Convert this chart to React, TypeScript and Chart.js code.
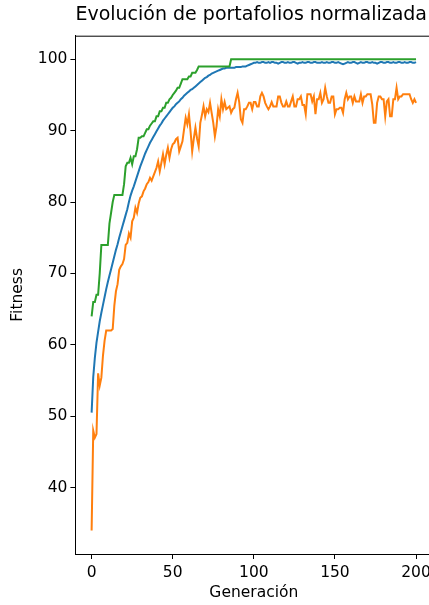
import { useEffect, useRef } from "react";
import { Chart, registerables } from "chart.js";

Chart.register(...registerables);

const FONT = "DejaVu Sans";

const TITLE = "Evolución de portafolios normalizada";
const X_LABEL = "Generación";
const Y_LABEL = "Fitness";

const generations: number[] = Array.from({ length: 201 }, (_, i) => i);

// Best (max) fitness per generation
const maxFitness: number[] = [
  64, 66, 66, 67, 67, 70, 74, 74, 74, 74,
  74, 77, 78.5, 80, 81, 81, 81, 81, 81, 81,
  82.5, 85, 85.5, 85.5, 86.2, 85.3, 86.4, 86.4, 87.4, 89,
  89, 89.2, 89.2, 89.7, 90.2, 90.2, 90.7, 91, 91.3, 91.3,
  92, 92, 92.7, 92.7, 93.2, 93.2, 93.9, 93.9, 94.4, 94.6,
  95, 95.3, 95.6, 96, 96, 96.6, 97.2, 97.2, 97.2, 97.2,
  97.6, 97.6, 98.1, 98.1, 98.1, 98.5, 99, 99, 99, 99,
  99, 99, 99, 99, 99, 99, 99, 99, 99, 99,
  99, 99, 99, 99, 99, 99, 100, 100, 100, 100,
  100, 100, 100, 100, 100, 100, 100, 100, 100, 100,
  100, 100, 100, 100, 100, 100, 100, 100, 100, 100,
  100, 100, 100, 100, 100, 100, 100, 100, 100, 100,
  100, 100, 100, 100, 100, 100, 100, 100, 100, 100,
  100, 100, 100, 100, 100, 100, 100, 100, 100, 100,
  100, 100, 100, 100, 100, 100, 100, 100, 100, 100,
  100, 100, 100, 100, 100, 100, 100, 100, 100, 100,
  100, 100, 100, 100, 100, 100, 100, 100, 100, 100,
  100, 100, 100, 100, 100, 100, 100, 100, 100, 100,
  100, 100, 100, 100, 100, 100, 100, 100, 100, 100,
  100, 100, 100, 100, 100, 100, 100, 100, 100, 100,
  100,
];

// Mean fitness per generation
const meanFitness: number[] = [
  50.5, 55.5, 58.2, 60.3, 61.8, 63.3, 64.5, 65.6, 66.7, 67.8,
  68.8, 69.7, 70.6, 71.5, 72.4, 73.3, 74.1, 75.0, 75.8, 76.6,
  77.4, 78.2, 79.0, 80.0, 80.9, 81.6, 82.2, 82.9, 83.6, 84.3,
  85.0, 85.6, 86.2, 86.8, 87.3, 87.8, 88.3, 88.7, 89.1, 89.5,
  89.9, 90.3, 90.7, 91.0, 91.4, 91.7, 92.0, 92.3, 92.6, 92.9,
  93.2, 93.4, 93.7, 93.9, 94.1, 94.4, 94.6, 94.9, 95.1, 95.3,
  95.5, 95.7, 95.8, 96.0, 96.2, 96.4, 96.6, 96.8, 97.0, 97.2,
  97.4, 97.5, 97.7, 97.8, 98.0, 98.1, 98.2, 98.3, 98.4, 98.5,
  98.6, 98.7, 98.7, 98.8, 98.8, 98.8, 98.8, 98.8, 98.8, 98.9,
  98.9, 98.9, 98.9, 99.0, 99.0, 99.0, 99.1, 99.2, 99.3, 99.4,
  99.5, 99.5, 99.6, 99.5, 99.5, 99.6, 99.6, 99.5, 99.5, 99.6,
  99.5, 99.6, 99.6, 99.5, 99.5, 99.4, 99.5, 99.6, 99.6, 99.5,
  99.5, 99.6, 99.5, 99.5, 99.6, 99.6, 99.5, 99.4, 99.5, 99.5,
  99.6, 99.5, 99.5, 99.6, 99.6, 99.5, 99.5, 99.6, 99.6, 99.5,
  99.5, 99.5, 99.6, 99.5, 99.5, 99.6, 99.5, 99.5, 99.6, 99.6,
  99.5, 99.5, 99.6, 99.5, 99.4, 99.3, 99.4, 99.5, 99.6, 99.5,
  99.5, 99.6, 99.6, 99.5, 99.4, 99.5, 99.6, 99.5, 99.5, 99.6,
  99.6, 99.5, 99.5, 99.6, 99.5, 99.5, 99.4, 99.5, 99.6, 99.6,
  99.5, 99.5, 99.6, 99.6, 99.5, 99.5, 99.6, 99.5, 99.5, 99.6,
  99.6, 99.5, 99.5, 99.6, 99.5, 99.5, 99.6, 99.6, 99.5, 99.5,
  99.6,
];

// Noisy portfolio fitness per generation
const portfolioFitness: number[] = [
  34, 48, 47, 47.5, 56, 54.3, 55.4, 58.5, 60.6, 62,
  62, 62, 62, 62.2, 65.5, 67.5, 68.5, 70.5, 71, 71.3,
  72, 74, 74.3, 75.6, 75, 77.3, 77.8, 79.2, 78.5, 79.8,
  80.6, 80.8, 81.5, 81.9, 82.5, 82.8, 83.4, 83, 83.6, 84.2,
  84.8, 85.7, 84.3, 85.5, 86.7, 85.3, 86.6, 87.6, 86.2, 87.4,
  88.1, 88.3, 88.8, 89, 87.1, 87.8, 88.5, 90.2, 91.8, 90.9,
  92.3, 89.9, 87.1, 88.9, 90.4, 88.9, 87.8, 91.1, 92.2, 93.4,
  92, 93, 92.6, 93.9, 92.5, 91.1, 89.2, 90.6, 93, 92,
  94.4, 93, 94, 93, 93.2, 93.4, 92.5, 93, 93.2, 94.4,
  95.3, 94, 91.6, 91.1, 93, 93, 93.4, 93.9, 93.9, 93,
  94, 94, 93.4, 93.4, 94.8, 95.3, 94.8, 93.9, 93.4, 93,
  93.4, 94, 93.4, 93.4, 93.4, 94.8, 94.8, 93.9, 93.4, 93.4,
  94.1, 93.4, 93.4, 94.1, 94.8, 93.4, 93.4, 94.4, 94.4, 94.8,
  93.6, 93.6, 92.3, 95.1, 95.1, 95.1, 94.1, 94.8, 92.3, 94.4,
  94.4, 95.3, 93.9, 94.4, 96, 94.8, 93.9, 93.9, 94.8, 94.8,
  92.3, 93, 93, 93.2, 93.2, 92.5, 94.4, 95.3, 94.4, 94.8,
  94.8, 93.9, 94.8, 94.1, 94.1, 94.1, 95.1, 93.9, 94.8, 94.8,
  95.1, 95.1, 95.1, 93.7, 91.1, 91.1, 93.9, 94.8, 94.8, 94.4,
  94.4, 92, 94.1, 94.4, 92, 92, 94.4, 94.4, 96, 94.4,
  94.8, 94.8, 95.1, 95.1, 95.1, 95.1, 95.1, 94.4, 93.9, 94.4,
  93.9,
];

const X_MIN = -10;
const X_MAX = 210;
const X_STEP = 50;
const Y_MIN = 30.7;
const Y_MAX = 103.3;
const Y_STEP = 10;

const toPoints = (vals: number[]) => vals.map((v, i) => ({ x: generations[i], y: v }));

const spinePlugin = {
  id: "spines",
  afterDraw(chart: any) {
    const { ctx, chartArea } = chart;
    const { left, right, top, bottom } = chartArea;
    ctx.save();
    ctx.strokeStyle = "#000";
    ctx.lineWidth = 1;
    ctx.beginPath();
    ctx.moveTo(left, top + 0.5);
    ctx.lineTo(right, top + 0.5);
    ctx.moveTo(right - 0.5, top);
    ctx.lineTo(right - 0.5, bottom);
    ctx.stroke();
    ctx.restore();
  },
};

export default function App() {
  const ref = useRef<HTMLCanvasElement>(null);

  useEffect(() => {
    if (!ref.current) return;
    const axisFont = { family: FONT, size: 15.5 };
    const chart = new Chart(ref.current, {
      type: "line",
      data: {
        datasets: [
          {
            label: "max",
            data: toPoints(maxFitness),
            borderColor: "#2ca02c",
            backgroundColor: "#2ca02c",
            borderWidth: 2,
            pointRadius: 0,
            tension: 0,
            fill: false,
          },
          {
            label: "portafolio",
            data: toPoints(portfolioFitness),
            borderColor: "#ff7f0e",
            backgroundColor: "#ff7f0e",
            borderWidth: 2,
            pointRadius: 0,
            tension: 0,
            fill: false,
          },
          {
            label: "media",
            data: toPoints(meanFitness),
            borderColor: "#1f77b4",
            backgroundColor: "#1f77b4",
            borderWidth: 2,
            pointRadius: 0,
            tension: 0,
            fill: false,
          },
        ],
      },
      options: {
        animation: false,
        responsive: false,
        devicePixelRatio: 1,
        layout: { padding: { left: 0, right: 1.4, top: 0, bottom: 0 } },
        plugins: {
          legend: { display: false },
          tooltip: { enabled: false },
          title: {
            display: true,
            text: TITLE,
            align: "start",
            fullSize: false,
            color: "#000",
            font: { family: FONT, size: 19, weight: "normal" },
            padding: { top: 4, bottom: 8.9 },
          },
        },
        scales: {
          x: {
            type: "linear",
            min: X_MIN,
            max: X_MAX,
            ticks: {
              stepSize: X_STEP,
              includeBounds: false,
              color: "#000",
              font: axisFont,
              padding: 5,
              maxRotation: 0,
            },
            grid: {
              drawOnChartArea: false,
              drawTicks: true,
              tickLength: 5,
              tickColor: "#000",
              tickWidth: 1,
            },
            border: { display: true, color: "#000", width: 1 },
            title: {
              display: true,
              text: X_LABEL,
              color: "#000",
              font: axisFont,
              padding: { top: 0, bottom: 3 },
            },
            afterFit: (s: any) => {
              s.height = 51;
            },
          },
          y: {
            type: "linear",
            min: Y_MIN,
            max: Y_MAX,
            ticks: {
              stepSize: Y_STEP,
              includeBounds: false,
              color: "#000",
              font: axisFont,
              padding: 3,
            },
            grid: {
              drawOnChartArea: false,
              drawTicks: true,
              tickLength: 5,
              tickColor: "#000",
              tickWidth: 1,
            },
            border: { display: true, color: "#000", width: 1 },
            title: {
              display: true,
              text: Y_LABEL,
              color: "#000",
              font: axisFont,
              padding: { top: 9, bottom: 0 },
            },
            afterFit: (s: any) => {
              s.width = 75.4;
            },
          },
        },
      },
      plugins: [spinePlugin],
    } as any);
    return () => chart.destroy();
  }, []);

  return (
    <div
      style={{
        position: "fixed",
        left: 0,
        top: 0,
        width: 429,
        height: 605,
        overflow: "hidden",
        background: "#fff",
      }}
    >
      <canvas ref={ref} width={436} height={605} style={{ display: "block" }} />
    </div>
  );
}
